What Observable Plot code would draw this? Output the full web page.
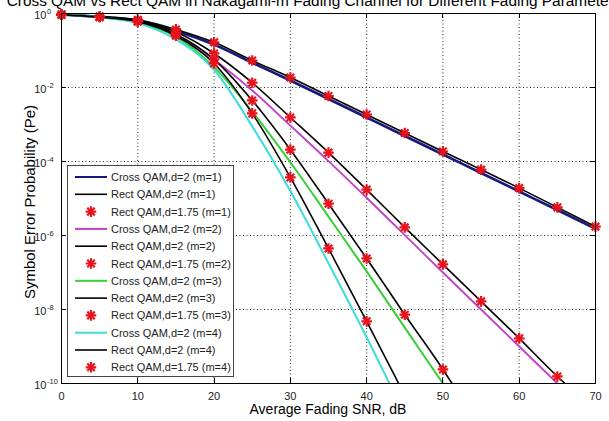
<!DOCTYPE html>
<html><head><meta charset="utf-8">
<script src="https://cdn.jsdelivr.net/npm/d3@7"></script>
<script src="https://cdn.jsdelivr.net/npm/@observablehq/plot@0.6"></script>
<style>
html,body{margin:0;padding:0;background:#fff;}
#wrap{position:relative;width:609px;height:421px;overflow:hidden;font-family:"Liberation Sans",Arial,sans-serif;}
#title{position:absolute;left:-86px;width:800px;top:-8px;text-align:center;white-space:nowrap;font-size:15.4px;color:#000;}
#chart{position:absolute;left:0;top:0;}
</style></head><body>
<div id="wrap"><div id="chart"></div><div id="title">Cross QAM vs Rect QAM in Nakagami-m Fading Channel for Different Fading Parameters</div></div>
<script>
// ---- data: SNR (dB) and log10(Pe) ----
const xM1 = [0,5,10,15,20,25,30,35,40,45,50,55,60,65,70];
const crossM1 = [-0.03,-0.09,-0.19,-0.47,-0.84,-1.33,-1.81,-2.31,-2.81,-3.31,-3.81,-4.31,-4.81,-5.31,-5.82];
const rectM1  = [-0.03,-0.08,-0.17,-0.43,-0.78,-1.27,-1.73,-2.23,-2.73,-3.23,-3.73,-4.22,-4.72,-5.24,-5.76];

const xM2Cross = [0,5,10,15,20,25,30,35,40,45,50,55,60,65];
const crossM2  = [-0.03,-0.1,-0.23,-0.58,-1.25,-2.08,-3.03,-3.99,-4.98,-5.99,-7.0,-8.0,-9.0,-10];
const xM2Rect  = [0,5,10,15,20,25,30,35,40,45,50,55,60,65,66];
const rectM2   = [-0.03,-0.09,-0.2,-0.5,-1.08,-1.87,-2.81,-3.76,-4.76,-5.78,-6.78,-7.78,-8.78,-9.81,-10];

const xM3Cross = [0,5,10,15,20,25,30,35,40,45,50];
const crossM3  = [-0.03,-0.1,-0.24,-0.63,-1.45,-2.65,-4.02,-5.49,-6.97,-8.49,-10];
const xM3Rect  = [0,5,10,15,20,25,30,35,40,45,50,51.2];
const rectM3   = [-0.03,-0.09,-0.21,-0.56,-1.24,-2.35,-3.68,-5.14,-6.62,-8.14,-9.62,-10];

const xM4Cross = [0,5,10,15,20,25,30,35,40,43];
const crossM4  = [-0.03,-0.1,-0.26,-0.7,-1.52,-3.05,-4.8,-6.75,-8.75,-10];
const xM4Rect  = [0,5,10,15,20,25,30,35,40,44.2];
const rectM4   = [-0.03,-0.1,-0.22,-0.6,-1.35,-2.7,-4.43,-6.35,-8.32,-10];

// Rect QAM d=1.75 markers (log10 Pe)
const xMk1 = [0,5,10,15,20,25,30,35,40,45,50,55,60,65,70];
const mk1  = [-0.03,-0.08,-0.17,-0.43,-0.78,-1.27,-1.73,-2.23,-2.73,-3.23,-3.73,-4.22,-4.72,-5.24,-5.76];
const xMk2 = [0,5,10,15,20,25,30,35,40,45,50,55,60,65];
const mk2  = [-0.03,-0.09,-0.2,-0.5,-1.08,-1.87,-2.81,-3.76,-4.76,-5.78,-6.78,-7.78,-8.78,-9.81];
const xMk3 = [0,5,10,15,20,25,30,35,40,45,50];
const mk3  = [-0.03,-0.09,-0.21,-0.56,-1.24,-2.35,-3.68,-5.14,-6.62,-8.14,-9.62];
const xMk4 = [0,5,10,15,20,25,30,35,40];
const mk4  = [-0.03,-0.1,-0.22,-0.6,-1.35,-2.7,-4.43,-6.35,-8.32];

const legendLabels = ["Cross QAM,d=2 (m=1)","Rect QAM,d=2 (m=1)","Rect QAM,d=1.75 (m=1)",
  "Cross QAM,d=2 (m=2)","Rect QAM,d=2 (m=2)","Rect QAM,d=1.75 (m=2)",
  "Cross QAM,d=2 (m=3)","Rect QAM,d=2 (m=3)","Rect QAM,d=1.75 (m=3)",
  "Cross QAM,d=2 (m=4)","Rect QAM,d=2 (m=4)","Rect QAM,d=1.75 (m=4)"];
const xTicks = [0,10,20,30,40,50,60,70];
const yExps = [0,-2,-4,-6,-8,-10];

const NAVY="#17177e", MAG="#c23fc9", GRN="#36cf36", CYN="#3adcdc", BLK="#000000", RED="#e5141c";
const legendColors = [NAVY,BLK,RED,MAG,BLK,RED,GRN,BLK,RED,CYN,BLK,RED];

const rows = (xs, ls) => xs.map((x,i)=>({x, pe: Math.pow(10, ls[i])}));
const lineSpecs = [
  [xM1, crossM1, NAVY, 2.6],[xM1, rectM1, BLK, 1.6],
  [xM2Cross, crossM2, MAG, 1.8],[xM2Rect, rectM2, BLK, 1.6],
  [xM3Cross, crossM3, GRN, 2],[xM3Rect, rectM3, BLK, 1.6],
  [xM4Cross, crossM4, CYN, 2],[xM4Rect, rectM4, BLK, 1.6]
];
const markerRows = [].concat(rows(xMk1,mk1), rows(xMk2,mk2), rows(xMk3,mk3), rows(xMk4,mk4));

const marks = [
  Plot.gridX(xTicks.slice(1,-1), {stroke:"#000", strokeOpacity:0.85, strokeDasharray:"1,2.5"}),
  Plot.gridY(yExps.slice(1,-1).map(e=>Math.pow(10,e)), {stroke:"#000", strokeOpacity:0.85, strokeDasharray:"1,2.5"}),
];
for (const [xs, ls, c, w] of lineSpecs) {
  marks.push(Plot.line(rows(xs, ls), {x:"x", y:"pe", stroke:c, strokeWidth:w, curve:"monotone-x", clip:true}));
}
marks.push(Plot.dot(markerRows, {x:"x", y:"pe", symbol:"plus", r:3.5, stroke:RED, strokeWidth:2.2}));
marks.push(Plot.dot(markerRows, {x:"x", y:"pe", symbol:"times", r:3.5, stroke:RED, strokeWidth:2.2}));
marks.push(Plot.frame({stroke:"#000", strokeWidth:1}));
marks.push(Plot.axisX(xTicks, {anchor:"bottom", tickSize:0, tickPadding:9, fontSize:11, fill:"#222", label:null, tickFormat:d=>String(d)}));

const plot = Plot.plot({
  width:609, height:421, marginLeft:61, marginRight:14, marginTop:13, marginBottom:38,
  style:{fontFamily:"Liberation Sans, Arial, sans-serif", background:"#fff"},
  x:{domain:[0,70], axis:null, label:null}, y:{type:"log", domain:[1e-10,1], axis:null, label:null},
  marks
});
document.getElementById("chart").appendChild(plot);

const svg = d3.select(plot);
const sx = plot.scale("x"), sy = plot.scale("y");
const X = v => sx.apply(v), Y = v => sy.apply(v);
const L = X(0), R = X(70), T = Y(1), B = Y(1e-10);
const tg = svg.append("g").attr("stroke","#000").attr("stroke-width",1);
xTicks.forEach(t=>{ const x=Math.round(X(t))+0.5;
  tg.append("line").attr("x1",x).attr("x2",x).attr("y1",B).attr("y2",B-5);
  tg.append("line").attr("x1",x).attr("x2",x).attr("y1",T).attr("y2",T+5); });
yExps.forEach(e=>{ const y=Math.round(Y(Math.pow(10,e)))+0.5;
  tg.append("line").attr("x1",L).attr("x2",L+5).attr("y1",y).attr("y2",y);
  tg.append("line").attr("x1",R).attr("x2",R-5).attr("y1",y).attr("y2",y); });
// y tick labels 10^e
const yl = svg.append("g").attr("font-family","Liberation Sans, Arial, sans-serif").attr("fill","#222");
yExps.forEach(e=>{ const y=Y(Math.pow(10,e));
  yl.append("text").attr("x",46.5).attr("y",y+6).attr("text-anchor","end").attr("font-size",11).text("10");
  yl.append("text").attr("x",47).attr("y",y+0.5).attr("text-anchor","start").attr("font-size",7.5).text(String(e)); });
// axis titles
svg.append("text").attr("x",(L+R)/2).attr("y",414).attr("text-anchor","middle")
  .attr("font-size",14).attr("font-family","Liberation Sans, Arial, sans-serif").attr("fill","#000").text("Average Fading SNR, dB");
svg.append("text").attr("transform",`translate(35,${(T+B)/2+4}) rotate(-90)`).attr("text-anchor","middle")
  .attr("font-size",15).attr("font-family","Liberation Sans, Arial, sans-serif").attr("fill","#000").text("Symbol Error Probability (Pe)");
// legend
const lg = svg.append("g").attr("font-family","Liberation Sans, Arial, sans-serif");
lg.append("rect").attr("x",67.5).attr("y",165.5).attr("width",166).attr("height",211).attr("fill","#fff").attr("stroke","#444");
const plusP = d3.symbol(d3.symbolPlus, Math.PI*12.25)(), timesP = d3.symbol(d3.symbolTimes, Math.PI*12.25)();
legendLabels.forEach((lab,i)=>{
  const y = 177 + i*17.3;
  if (i%3===2) {
    [plusP,timesP].forEach(p=>lg.append("path").attr("d",p).attr("transform",`translate(91,${y})`).attr("fill","none").attr("stroke",RED).attr("stroke-width",2.2));
  } else {
    lg.append("line").attr("x1",75).attr("x2",107).attr("y1",y).attr("y2",y).attr("stroke",legendColors[i]).attr("stroke-width", i%3===0 ? 2 : 1.6);
  }
  lg.append("text").attr("x",111).attr("y",y+4).attr("text-anchor","start").attr("font-size",11).attr("fill","#222").text(lab);
});
</script>
</body></html>
